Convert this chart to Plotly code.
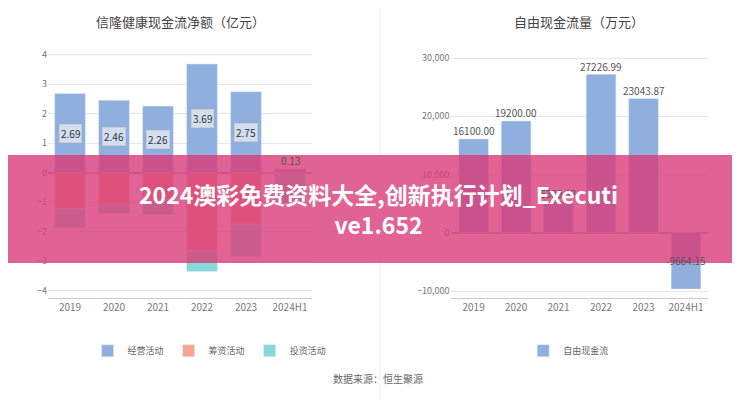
import plotly.graph_objects as go
from plotly.subplots import make_subplots

# Data
years = ["2019", "2020", "2021", "2022", "2023", "2024H1"]
operating = [2.69, 2.46, 2.26, 3.69, 2.75, 0.13]
financing = [-1.22, -1.08, -0.92, -2.65, -1.75, -0.02]
investing = [-0.65, -0.30, -0.50, -0.70, -1.10, -1.00]
fcf = [16100, 19200, 5389.82, 27226.99, 23043.87, -9664.15]

blue = "#8fb0de"
peach = "#f5a590"
cyan = "#86d9d8"

fig = make_subplots(rows=1, cols=2, horizontal_spacing=0.2,
                    subplot_titles=["信隆健康现金流净额（亿元）", "自由现金流量（万元）"])

fig.add_trace(go.Bar(x=years, y=operating, name="经营活动", marker_color=blue), row=1, col=1)
fig.add_trace(go.Bar(x=years, y=financing, name="筹资活动", marker_color=peach), row=1, col=1)
fig.add_trace(go.Bar(x=years, y=investing, name="投资活动", marker_color=cyan), row=1, col=1)
fig.add_trace(go.Bar(x=years, y=fcf, name="自由现金流", marker_color=blue,
                     legend="legend2"), row=1, col=2)

# value labels (category index positions)
for i, v in enumerate(operating[:5]):
    fig.add_annotation(x=i, y=v / 2, xref="x", yref="y", text=f"{v:.2f}", showarrow=False,
                       font=dict(size=10, color="#333"), bgcolor="rgba(255,255,255,0.6)",
                       bordercolor="#ccc", borderpad=1)
fig.add_annotation(x=5, y=operating[5], xref="x", yref="y", text=f"{operating[5]:.2f}",
                   showarrow=False, yshift=8, font=dict(size=10, color="#555"))
for i, v in enumerate(fcf):
    fig.add_annotation(x=i, y=v if v > 0 else 0, xref="x2", yref="y2", text=f"{v:.2f}",
                       showarrow=False, yshift=8 if v > 0 else -28,
                       font=dict(size=10, color="#555"))

fig.update_layout(
    width=740, height=400, barmode="relative", bargap=0.3,
    plot_bgcolor="white", paper_bgcolor="white",
    font=dict(family="Noto Sans CJK SC", color="#666", size=10),
    margin=dict(l=40, r=40, t=35, b=110),
    xaxis=dict(domain=[0, 0.40], type="category"),
    xaxis2=dict(domain=[0.61, 1.0], type="category"),
    legend=dict(orientation="h", x=0.06, y=-0.15, font=dict(size=9)),
    legend2=dict(orientation="h", x=0.72, y=-0.15, font=dict(size=9)),
)
fig.layout.annotations[0].update(x=0.2, y=1.086, yanchor="middle", font=dict(size=13, color="#444"))
fig.layout.annotations[1].update(x=0.805, y=1.086, yanchor="middle", font=dict(size=13, color="#444"))
fig.update_xaxes(showgrid=False, linecolor="#ccc", tickfont=dict(size=10, color="#777"))
fig.update_yaxes(gridcolor="#e6e6e6", zeroline=True, zerolinecolor="#bbb",
                 tickfont=dict(size=9, color="#777"))
fig.update_yaxes(range=[-4.25, 4.4], dtick=1, row=1, col=1)
fig.update_yaxes(range=[-11200, 32575], dtick=10000, tickformat=",", row=1, col=2)

fig.add_shape(type="line", xref="paper", yref="paper", x0=0.503, x1=0.503, y0=-0.4, y1=1.15,
              line=dict(color="#eee", width=1))
fig.add_shape(type="rect", xref="paper", yref="paper", x0=-0.1, x1=1.1,
              y0=0.137, y1=0.561, fillcolor="rgba(218,60,120,0.8)", line_width=0, layer="above")
fig.add_annotation(xref="paper", yref="paper", x=0.5, y=0.349, showarrow=False,
                   text="<b>2024澳彩免费资料大全,创新执行计划_Executi<br>ve1.652</b>",
                   font=dict(size=23, color="white", family="Noto Sans CJK SC"))
fig.add_annotation(xref="paper", yref="paper", x=0.5, y=-0.353, showarrow=False,
                   text="数据来源：恒生聚源", font=dict(size=10, color="#666"))

fig.write_html("out.html")
